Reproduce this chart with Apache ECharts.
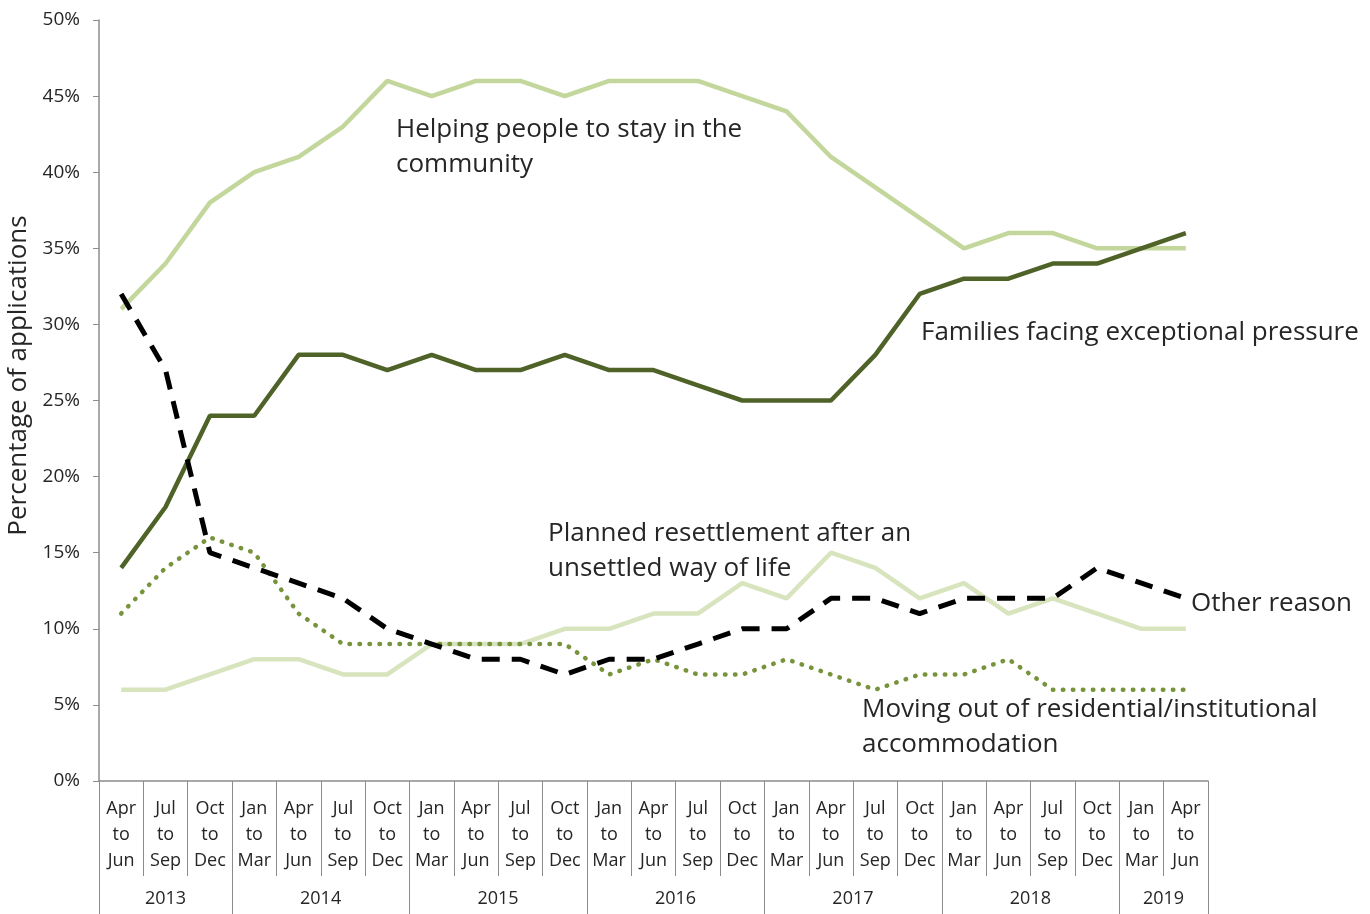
<!DOCTYPE html>
<html>
<head>
<meta charset="utf-8">
<script src="https://cdn.jsdelivr.net/npm/echarts@6/dist/echarts.min.js"></script>
<style>
  html, body { margin: 0; padding: 0; background: #fff; }
  #main { width: 1370px; height: 914px; }
</style>
</head>
<body>
<div id="main"></div>
<script>
// quarters, Apr-Jun 2013 .. Apr-Jun 2019
var quarters = ['Apr\nto\nJun', 'Jul\nto\nSep', 'Oct\nto\nDec',
  'Jan\nto\nMar', 'Apr\nto\nJun', 'Jul\nto\nSep', 'Oct\nto\nDec',
  'Jan\nto\nMar', 'Apr\nto\nJun', 'Jul\nto\nSep', 'Oct\nto\nDec',
  'Jan\nto\nMar', 'Apr\nto\nJun', 'Jul\nto\nSep', 'Oct\nto\nDec',
  'Jan\nto\nMar', 'Apr\nto\nJun', 'Jul\nto\nSep', 'Oct\nto\nDec',
  'Jan\nto\nMar', 'Apr\nto\nJun', 'Jul\nto\nSep', 'Oct\nto\nDec',
  'Jan\nto\nMar', 'Apr\nto\nJun'];
var years = ['2013', '2014', '2015', '2016', '2017', '2018', '2019'];
var yearSpan = [3, 4, 4, 4, 4, 4, 2];

var helping  = [31, 34, 38, 40, 41, 43, 46, 45, 46, 46, 45, 46, 46, 46, 45, 44, 41, 39, 37, 35, 36, 36, 35, 35, 35];
var families = [14, 18, 24, 24, 28, 28, 27, 28, 27, 27, 28, 27, 27, 26, 25, 25, 25, 28, 32, 33, 33, 34, 34, 35, 36];
var planned  = [6, 6, 7, 8, 8, 7, 7, 9, 9, 9, 10, 10, 11, 11, 13, 12, 15, 14, 12, 13, 11, 12, 11, 10, 10];
var movingOut = [11, 14, 16, 15, 11, 9, 9, 9, 9, 9, 9, 7, 8, 7, 7, 8, 7, 6, 7, 7, 8, 6, 6, 6, 6];
var other    = [32, 27, 15, 14, 13, 12, 10, 9, 8, 8, 7, 8, 8, 9, 10, 10, 12, 12, 11, 12, 12, 12, 14, 13, 12];

// year group boundaries and label slots
var yearStart = {};
var yearLabel = {};
var pos = 0;
years.forEach(function (y, i) {
  yearStart[pos] = true;
  var span = yearSpan[i];
  if (span % 2) {
    yearLabel[pos + (span - 1) / 2] = '{n|' + y + '}';
  } else {
    yearLabel[pos + span / 2 - 1] = '{s|' + y + '}';
  }
  pos += span;
});

var font = '"Open Sans", Lato, sans-serif';
var txt = '#262626';
var axisGrey = '#8c8c8c';
var noteFont = '26px ' + font;

var myChart = echarts.init(document.getElementById('main'));

var option = {
  animation: false,
  backgroundColor: '#fff',
  textStyle: { fontFamily: font },
  grid: { left: 99, right: 162, top: 20, bottom: 133, containLabel: false, outerBoundsMode: 'none' },
  xAxis: [
    {
      type: 'category',
      data: quarters,
      boundaryGap: true,
      axisLine: { lineStyle: { color: axisGrey, width: 1.5 } },
      axisTick: { show: true, interval: 0, length: 95, lineStyle: { color: axisGrey } },
      axisLabel: {
        interval: 0,
        margin: 15,
        color: txt,
        fontSize: 18,
        lineHeight: 26,
        fontFamily: font
      },
      splitLine: { show: false }
    },
    {
      type: 'category',
      data: quarters,
      position: 'bottom',
      boundaryGap: true,
      axisLine: { show: false },
      axisTick: {
        show: true,
        length: 133,
        interval: function (index) { return !!yearStart[index]; },
        lineStyle: { color: axisGrey }
      },
      axisLabel: {
        interval: 0,
        margin: 109,
        formatter: function (v, i) { return yearLabel[i] || ''; },
        rich: {
          n: { fontSize: 18, color: txt, fontFamily: font },
          s: { fontSize: 18, color: txt, fontFamily: font, padding: [0, 0, 0, 44] }
        }
      },
      splitLine: { show: false }
    }
  ],
  yAxis: {
    type: 'value',
    min: 0,
    max: 50,
    interval: 5,
    name: 'Percentage of applications',
    nameLocation: 'middle',
    nameGap: 64,
    nameTextStyle: { fontSize: 26, color: txt, fontFamily: font, padding: [0, 0, 0, 50] },
    axisLine: { show: true, lineStyle: { color: axisGrey, width: 1.5 } },
    axisTick: { show: true, length: 6, lineStyle: { color: axisGrey } },
    axisLabel: { formatter: '{value}%', margin: 19, color: txt, fontSize: 19, fontFamily: font },
    splitLine: { show: false }
  },
  series: [
    {
      name: 'Helping people to stay in the community',
      type: 'line',
      data: helping,
      symbol: 'none',
      lineStyle: { color: '#c3d69b', width: 4.5 }
    },
    {
      name: 'Planned resettlement after an unsettled way of life',
      type: 'line',
      data: planned,
      symbol: 'none',
      lineStyle: { color: '#d7e4bd', width: 4.5 }
    },
    {
      name: 'Moving out of residential/institutional accommodation',
      type: 'line',
      data: movingOut,
      symbol: 'none',
      lineStyle: { color: '#77933c', width: 4.5, type: [0.5, 9.5], cap: 'round' }
    },
    {
      name: 'Families facing exceptional pressure',
      type: 'line',
      data: families,
      symbol: 'none',
      lineStyle: { color: '#4f6228', width: 4.5 }
    },
    {
      name: 'Other reason',
      type: 'line',
      data: other,
      symbol: 'none',
      lineStyle: { color: '#000', width: 5, type: [18, 12] }
    }
  ],
  graphic: [
    { type: 'text', left: 396, top: 112, style: { text: 'Helping people to stay in the\ncommunity', font: noteFont, fill: txt, lineHeight: 35 } },
    { type: 'text', left: 921, top: 315, style: { text: 'Families facing exceptional pressure', font: noteFont, fill: txt, lineHeight: 35 } },
    { type: 'text', left: 548, top: 516, style: { text: 'Planned resettlement after an\nunsettled way of life', font: noteFont, fill: txt, lineHeight: 35 } },
    { type: 'text', left: 1191, top: 586, style: { text: 'Other reason', font: noteFont, fill: txt, lineHeight: 35 } },
    { type: 'text', left: 862, top: 692, style: { text: 'Moving out of residential/institutional\naccommodation', font: noteFont, fill: txt, lineHeight: 35 } }
  ]
};

myChart.setOption(option);
</script>
</body>
</html>
